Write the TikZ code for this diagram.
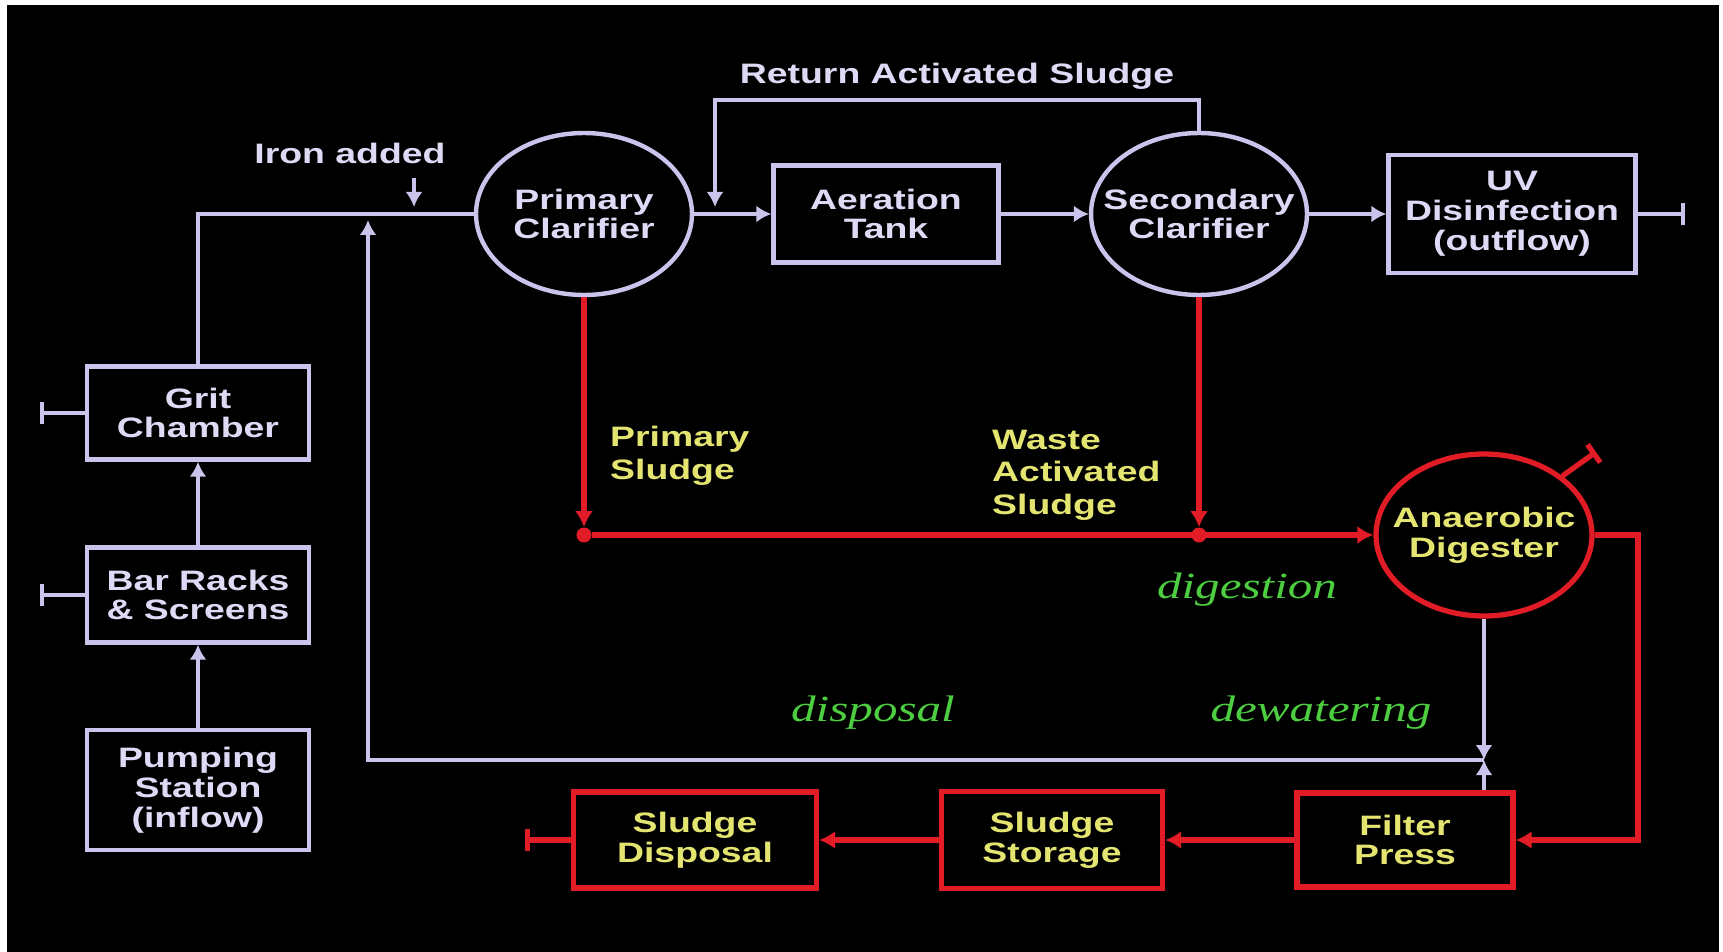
\documentclass[tikz,border=0pt]{standalone}
\usepackage{fontspec}
\setmainfont{Liberation Sans}[FakeStretch=1.33]
\newfontfamily\stagefont{Liberation Serif}[FakeStretch=1.33]
\usetikzlibrary{positioning,shapes.geometric,arrows.meta,calc}

\definecolor{lavline}{RGB}{200,196,236}
\definecolor{lavtext}{RGB}{222,218,246}
\definecolor{sludgered}{RGB}{226,28,38}
\definecolor{sludgeyellow}{RGB}{228,228,112}
\definecolor{stagegreen}{RGB}{76,206,64}

\tikzset{
    wwbox/.style={draw=lavline,line width=2.5pt,text=lavtext,align=center,inner sep=0pt,font=\bfseries\fontsize{16}{17}\selectfont},
    sludgebox/.style={wwbox,draw=sludgered,line width=3pt,text=sludgeyellow},
    wwtank/.style={ellipse,inner xsep=-0.6cm,minimum width=4.32cm,minimum height=3.24cm},
    wwlabel/.style={text=lavtext,font=\bfseries\fontsize{16}{17}\selectfont},
    sludgelabel/.style={text=sludgeyellow,align=left,font=\bfseries\fontsize{16}{18.5}\selectfont},
    stagelabel/.style={text=stagegreen,font=\stagefont\itshape\fontsize{21}{24}\selectfont},
    pipe/.style={lavline,line width=2.5pt},
    flow/.style={pipe,-{Latex[length=0.3cm,width=0.34cm]}},
    sludgepipe/.style={sludgered,line width=3pt},
    sludgeflow/.style={sludgepipe,-{Latex[length=0.32cm,width=0.36cm]}},
    vent/.style={-{Bar[width=0.44cm]}},
    reddot/.style={circle,fill=sludgered,inner sep=0pt,minimum size=0.3cm}
}

\begin{document}
\begin{tikzpicture}[x=0.02cm,y=-0.02cm]
    \fill[white] (0,0) rectangle (1723,952);
    \fill[black] (7,5) rectangle (1719,952);

    % headworks
    \node[wwbox,minimum width=4.44cm,minimum height=2.4cm] (pump) at (198,790) {Pumping\\Station\\(inflow)};
    \node[wwbox,minimum width=4.44cm,minimum height=1.9cm] (bar) at (198,595) {Bar Racks\\\& Screens};
    \node[wwbox,minimum width=4.44cm,minimum height=1.86cm] (grit) at (198,413) {Grit\\Chamber};

    % liquid train
    \node[wwbox,wwtank] (prim) at (584,214) {Primary\\Clarifier};
    \node[wwbox,minimum width=4.5cm,minimum height=1.94cm] (aer) at (886,214) {Aeration\\Tank};
    \node[wwbox,wwtank] (sec) at (1199,214) {Secondary\\Clarifier};
    \node[wwbox,minimum width=4.94cm,minimum height=2.36cm] (uv) at (1512,214) {UV\\Disinfection\\(outflow)};

    % solids train
    \node[sludgebox,wwtank] (dig) at (1484,535) {Anaerobic\\Digester};
    \node[sludgebox,minimum width=4.32cm,minimum height=1.88cm] (fp) at (1405,840) {Filter\\Press};
    \node[sludgebox,minimum width=4.42cm,minimum height=1.94cm] (stor) at (1052,840) {Sludge\\Storage};
    \node[sludgebox,minimum width=4.86cm,minimum height=1.92cm] (disp) at (695,840) {Sludge\\Disposal};

    % labels
    \node[wwlabel] (irontext) at (350,153) {Iron added};
    \node[wwlabel] (rastext) at (957,76) {Return Activated Sludge};
    \node[sludgelabel,anchor=west] (pslabel) at (604,456) {Primary\\Sludge};
    \node[sludgelabel,anchor=west] (waslabel) at (986,475) {Waste\\Activated\\Sludge};
    \node[stagelabel] (digestlabel) at (1247,590) {digestion};
    \node[stagelabel] (disposallabel) at (873,713) {disposal};
    \node[stagelabel] (dewaterlabel) at (1321,713) {dewatering};

    % free ends
    \coordinate (gritvent) at (40,413);
    \coordinate (barvent) at (40,595);
    \coordinate (uvvent) at (1685,214);
    \coordinate (dispvent) at (525,840);
    \coordinate (digvent) at (1596,452);
    \coordinate (irontop) at (414,178);
    \coordinate (ironin) at (414,207);
    \coordinate (rasturn) at (715,100);
    \coordinate (rasin) at (715,207);
    \coordinate (junc) at (1484,760);
    \coordinate (headin) at (368,220);
    \coordinate (fpturn) at (1638,840);
    \node[reddot] (psdot) at (584,535) {};
    \node[reddot] (wasdot) at (1199,535) {};

    % liquid flow
    \draw[flow] (pump) -- (bar);
    \draw[flow] (bar) -- (grit);
    \draw[pipe] (grit.north) |- (prim.west);
    \draw[flow] (irontop) -- (ironin);
    \draw[flow] (prim.east) -- (aer.west);
    \draw[flow] (aer.east) -- (sec.west);
    \draw[flow] (sec.east) -- (uv.west);
    \draw[flow] (sec.north) |- (rasturn) -- (rasin);
    \draw[pipe,vent] (grit.west) -- (gritvent);
    \draw[pipe,vent] (bar.west) -- (barvent);
    \draw[pipe,vent] (uv.east) -- (uvvent);

    % recycle to head of plant
    \draw[flow] (dig.south) -- (junc);
    \draw[flow] (fp.north -| junc) -- (junc);
    \draw[flow] (junc) -| (headin);

    % sludge flow
    \draw[sludgeflow] (prim.south) -- (psdot.north);
    \draw[sludgeflow] (sec.south) -- (wasdot.north);
    \draw[sludgeflow] (psdot) -- (dig.west);
    \draw[sludgeflow] (dig.east) -| (fpturn) -- (fp.east);
    \draw[sludgeflow] (fp.west) -- (stor.east);
    \draw[sludgeflow] (stor.west) -- (disp.east);
    \draw[sludgepipe,vent] (disp.west) -- (dispvent);
    \draw[sludgepipe,vent] (dig.37) -- (digvent);
\end{tikzpicture}
\end{document}
